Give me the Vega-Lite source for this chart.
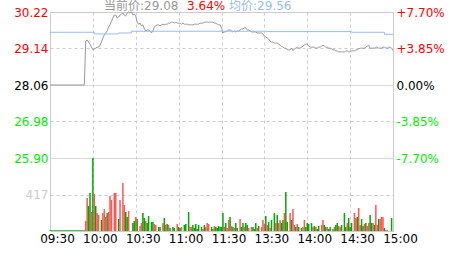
{
  "$schema": "https://vega.github.io/schema/vega-lite/v6.json",
  "width": 343,
  "height": 219,
  "autosize": {"type": "none"},
  "padding": {"left": 50, "top": 12, "right": 70, "bottom": 24},
  "config": {
    "view": {"stroke": "#cccccc"},
    "axis": {"labelFont": "DejaVu Sans", "labelFontSize": 12, "title": null, "domain": false, "ticks": false, "gridColor": "#cccccc"}
  },
  "datasets": {
    "price": [
      {"m":0,"p":28.06},{"m":24,"p":28.06},{"m":25,"p":29.36},{"m":26,"p":29.39},{"m":27,"p":29.33},{"m":28,"p":29.27},{"m":29,"p":29.18},{"m":30,"p":29.10},
      {"m":31,"p":29.13},{"m":32,"p":29.15},{"m":33,"p":29.18},{"m":34,"p":29.18},{"m":35,"p":29.24},{"m":36,"p":29.33},{"m":37,"p":29.45},{"m":38,"p":29.54},{"m":39,"p":29.60},{"m":40,"p":29.66},
      {"m":41,"p":29.78},{"m":42,"p":29.84},{"m":43,"p":29.95},{"m":44,"p":30.04},{"m":45,"p":30.13},{"m":46,"p":30.13},{"m":47,"p":30.04},{"m":48,"p":30.07},{"m":49,"p":30.13},{"m":50,"p":30.16},
      {"m":51,"p":30.19},{"m":52,"p":30.13},{"m":53,"p":30.10},{"m":54,"p":30.19},{"m":55,"p":30.22},{"m":56,"p":30.19},{"m":57,"p":30.22},{"m":58,"p":30.13},{"m":59,"p":30.16},{"m":60,"p":30.10},
      {"m":61,"p":29.92},{"m":62,"p":29.86},{"m":63,"p":29.89},{"m":64,"p":29.81},{"m":65,"p":29.84},{"m":66,"p":29.72},{"m":67,"p":29.66},{"m":68,"p":29.69},{"m":69,"p":29.69},{"m":70,"p":29.66},
      {"m":71,"p":29.60},{"m":72,"p":29.66},{"m":73,"p":29.78},{"m":74,"p":29.81},{"m":75,"p":29.84},{"m":76,"p":29.84},{"m":77,"p":29.81},{"m":78,"p":29.84},{"m":79,"p":29.86},{"m":80,"p":29.84},
      {"m":81,"p":29.86},{"m":82,"p":29.86},{"m":83,"p":29.89},{"m":84,"p":29.89},{"m":85,"p":29.92},{"m":86,"p":29.92},{"m":87,"p":29.89},{"m":88,"p":29.92},{"m":89,"p":29.89},{"m":90,"p":29.89},
      {"m":91,"p":29.89},{"m":92,"p":29.86},{"m":93,"p":29.89},{"m":94,"p":29.86},{"m":95,"p":29.86},{"m":96,"p":29.86},{"m":97,"p":29.84},{"m":98,"p":29.84},{"m":99,"p":29.84},{"m":100,"p":29.84},
      {"m":101,"p":29.86},{"m":102,"p":29.86},{"m":103,"p":29.86},{"m":104,"p":29.86},{"m":105,"p":29.89},{"m":106,"p":29.89},{"m":107,"p":29.89},{"m":108,"p":29.92},{"m":109,"p":29.92},{"m":110,"p":29.92},
      {"m":111,"p":29.92},{"m":112,"p":29.92},{"m":113,"p":29.92},{"m":114,"p":29.92},{"m":115,"p":29.89},{"m":116,"p":29.89},{"m":117,"p":29.86},{"m":118,"p":29.84},{"m":119,"p":29.84},{"m":120,"p":29.75},
      {"m":121,"p":29.60},{"m":122,"p":29.63},{"m":123,"p":29.63},{"m":124,"p":29.66},{"m":125,"p":29.69},{"m":126,"p":29.69},{"m":127,"p":29.66},{"m":128,"p":29.63},{"m":129,"p":29.66},{"m":130,"p":29.63},
      {"m":131,"p":29.66},{"m":132,"p":29.66},{"m":133,"p":29.69},{"m":134,"p":29.72},{"m":135,"p":29.72},{"m":136,"p":29.75},{"m":137,"p":29.75},{"m":138,"p":29.69},{"m":139,"p":29.69},{"m":140,"p":29.66},
      {"m":141,"p":29.63},{"m":142,"p":29.63},{"m":143,"p":29.63},{"m":144,"p":29.63},{"m":145,"p":29.60},{"m":146,"p":29.60},{"m":147,"p":29.60},{"m":148,"p":29.60},{"m":149,"p":29.57},{"m":150,"p":29.51},
      {"m":151,"p":29.48},{"m":152,"p":29.45},{"m":153,"p":29.42},{"m":154,"p":29.36},{"m":155,"p":29.33},{"m":156,"p":29.33},{"m":157,"p":29.30},{"m":158,"p":29.30},{"m":159,"p":29.30},{"m":160,"p":29.27},
      {"m":161,"p":29.24},{"m":162,"p":29.21},{"m":163,"p":29.18},{"m":164,"p":29.15},{"m":165,"p":29.15},{"m":166,"p":29.10},{"m":167,"p":29.10},{"m":168,"p":29.10},{"m":169,"p":29.15},{"m":170,"p":29.07},
      {"m":171,"p":29.13},{"m":172,"p":29.15},{"m":173,"p":29.18},{"m":174,"p":29.15},{"m":175,"p":29.15},{"m":176,"p":29.18},{"m":177,"p":29.21},{"m":178,"p":29.24},{"m":179,"p":29.27},{"m":180,"p":29.27},
      {"m":181,"p":29.21},{"m":182,"p":29.18},{"m":183,"p":29.18},{"m":184,"p":29.18},{"m":185,"p":29.18},{"m":186,"p":29.15},{"m":187,"p":29.15},{"m":188,"p":29.18},{"m":189,"p":29.18},{"m":190,"p":29.21},
      {"m":191,"p":29.24},{"m":192,"p":29.21},{"m":193,"p":29.18},{"m":194,"p":29.18},{"m":195,"p":29.15},{"m":196,"p":29.15},{"m":197,"p":29.13},{"m":198,"p":29.10},{"m":199,"p":29.10},{"m":200,"p":29.07},
      {"m":201,"p":29.07},{"m":202,"p":29.04},{"m":203,"p":29.04},{"m":204,"p":29.04},{"m":205,"p":29.04},{"m":206,"p":29.04},{"m":207,"p":29.07},{"m":208,"p":29.07},{"m":209,"p":29.04},{"m":210,"p":29.04},
      {"m":211,"p":29.07},{"m":212,"p":29.07},{"m":213,"p":29.07},{"m":214,"p":29.10},{"m":215,"p":29.10},{"m":216,"p":29.13},{"m":217,"p":29.15},{"m":218,"p":29.15},{"m":219,"p":29.15},{"m":220,"p":29.15},
      {"m":221,"p":29.18},{"m":222,"p":29.21},{"m":223,"p":29.24},{"m":224,"p":29.15},{"m":225,"p":29.15},{"m":226,"p":29.15},{"m":227,"p":29.15},{"m":228,"p":29.18},{"m":229,"p":29.18},{"m":230,"p":29.15},
      {"m":231,"p":29.15},{"m":232,"p":29.15},{"m":233,"p":29.18},{"m":234,"p":29.18},{"m":235,"p":29.15},{"m":236,"p":29.15},{"m":237,"p":29.18},{"m":238,"p":29.18},{"m":239,"p":29.15},{"m":240,"p":29.08}
    ],
    "avg": [
      {"m":0,"a":29.62},{"m":31,"a":29.57},{"m":48,"a":29.60},{"m":57,"a":29.65},{"m":151,"a":29.64},{"m":211,"a":29.62},{"m":234,"a":29.56},{"m":240,"a":29.56}
    ],
    "header": [
      {"t":"当前价:29.08","k":"now"},{"t":"3.64%","k":"chg"},{"t":"均价:29.56","k":"avg"}
    ],
    "vol": [
      {"m":0,"v":8,"d":"down"},{"m":1,"v":8,"d":"down"},{"m":2,"v":8,"d":"down"},{"m":3,"v":8,"d":"down"},{"m":4,"v":8,"d":"down"},{"m":5,"v":8,"d":"down"},{"m":6,"v":8,"d":"down"},{"m":7,"v":8,"d":"down"},{"m":8,"v":8,"d":"down"},{"m":9,"v":8,"d":"down"},
      {"m":10,"v":8,"d":"down"},{"m":11,"v":8,"d":"down"},{"m":12,"v":8,"d":"down"},{"m":13,"v":8,"d":"down"},{"m":14,"v":8,"d":"down"},{"m":15,"v":8,"d":"down"},{"m":16,"v":8,"d":"down"},{"m":17,"v":8,"d":"down"},{"m":18,"v":8,"d":"down"},{"m":19,"v":8,"d":"down"},
      {"m":20,"v":8,"d":"down"},{"m":21,"v":8,"d":"down"},{"m":22,"v":8,"d":"down"},{"m":23,"v":8,"d":"down"},{"m":24,"v":8,"d":"down"},
      {"m":25,"v":114,"d":"up"},{"m":26,"v":377,"d":"up"},{"m":27,"v":286,"d":"down"},{"m":28,"v":434,"d":"down"},{"m":29,"v":217,"d":"up"},{"m":30,"v":834,"d":"down"},{"m":31,"v":423,"d":"up"},{"m":32,"v":286,"d":"down"},{"m":33,"v":206,"d":"up"},{"m":34,"v":183,"d":"up"},
      {"m":36,"v":126,"d":"down"},{"m":37,"v":206,"d":"up"},{"m":38,"v":251,"d":"up"},{"m":39,"v":160,"d":"up"},{"m":40,"v":206,"d":"down"},{"m":41,"v":217,"d":"up"},{"m":42,"v":400,"d":"up"},{"m":43,"v":354,"d":"up"},{"m":45,"v":434,"d":"up"},{"m":46,"v":434,"d":"up"},
      {"m":48,"v":137,"d":"down"},{"m":49,"v":354,"d":"up"},{"m":51,"v":548,"d":"up"},{"m":52,"v":297,"d":"up"},{"m":53,"v":217,"d":"down"},{"m":54,"v":160,"d":"down"},{"m":55,"v":228,"d":"up"},{"m":58,"v":91,"d":"down"},{"m":59,"v":114,"d":"down"},{"m":60,"v":160,"d":"up"},
      {"m":61,"v":137,"d":"down"},{"m":63,"v":57,"d":"up"},{"m":64,"v":91,"d":"up"},{"m":65,"v":206,"d":"down"},{"m":66,"v":148,"d":"down"},{"m":67,"v":114,"d":"up"},{"m":68,"v":91,"d":"down"},{"m":69,"v":171,"d":"down"},{"m":71,"v":103,"d":"down"},{"m":72,"v":103,"d":"down"},
      {"m":73,"v":80,"d":"up"},{"m":74,"v":69,"d":"up"},{"m":76,"v":46,"d":"down"},{"m":77,"v":46,"d":"down"},{"m":79,"v":91,"d":"up"},{"m":80,"v":148,"d":"down"},{"m":81,"v":69,"d":"up"},{"m":82,"v":80,"d":"down"},{"m":83,"v":69,"d":"up"},{"m":84,"v":34,"d":"down"},
      {"m":86,"v":46,"d":"down"},{"m":87,"v":34,"d":"down"},{"m":89,"v":80,"d":"up"},{"m":90,"v":46,"d":"down"},{"m":91,"v":34,"d":"down"},{"m":92,"v":46,"d":"up"},{"m":94,"v":69,"d":"down"},{"m":95,"v":80,"d":"down"},{"m":97,"v":217,"d":"down"},{"m":98,"v":46,"d":"up"},
      {"m":99,"v":46,"d":"up"},{"m":100,"v":69,"d":"down"},{"m":101,"v":34,"d":"down"},{"m":102,"v":80,"d":"down"},{"m":103,"v":23,"d":"down"},{"m":104,"v":69,"d":"down"},{"m":106,"v":46,"d":"down"},{"m":107,"v":23,"d":"up"},{"m":108,"v":69,"d":"down"},{"m":109,"v":46,"d":"up"},
      {"m":110,"v":91,"d":"up"},{"m":111,"v":80,"d":"up"},{"m":113,"v":46,"d":"down"},{"m":114,"v":23,"d":"down"},{"m":115,"v":57,"d":"up"},{"m":116,"v":46,"d":"down"},{"m":117,"v":34,"d":"down"},{"m":118,"v":57,"d":"down"},{"m":119,"v":46,"d":"down"},{"m":120,"v":46,"d":"down"},
      {"m":121,"v":206,"d":"down"},{"m":122,"v":46,"d":"up"},{"m":123,"v":91,"d":"down"},{"m":124,"v":34,"d":"up"},{"m":125,"v":126,"d":"up"},{"m":126,"v":160,"d":"down"},{"m":127,"v":57,"d":"up"},{"m":128,"v":46,"d":"down"},{"m":129,"v":34,"d":"up"},{"m":130,"v":91,"d":"down"},
      {"m":131,"v":34,"d":"down"},{"m":133,"v":137,"d":"up"},{"m":134,"v":46,"d":"down"},{"m":135,"v":91,"d":"down"},{"m":136,"v":46,"d":"up"},{"m":137,"v":91,"d":"down"},{"m":138,"v":69,"d":"down"},{"m":139,"v":34,"d":"up"},{"m":141,"v":46,"d":"up"},{"m":142,"v":46,"d":"down"},
      {"m":143,"v":23,"d":"down"},{"m":144,"v":91,"d":"down"},{"m":145,"v":34,"d":"up"},{"m":146,"v":57,"d":"down"},{"m":148,"v":46,"d":"up"},{"m":149,"v":126,"d":"up"},{"m":150,"v":80,"d":"up"},{"m":151,"v":171,"d":"down"},{"m":152,"v":69,"d":"up"},{"m":153,"v":103,"d":"down"},
      {"m":154,"v":34,"d":"up"},{"m":155,"v":126,"d":"down"},{"m":157,"v":206,"d":"down"},{"m":158,"v":91,"d":"up"},{"m":159,"v":183,"d":"down"},{"m":160,"v":91,"d":"up"},{"m":161,"v":126,"d":"up"},{"m":162,"v":91,"d":"down"},{"m":163,"v":126,"d":"down"},{"m":164,"v":206,"d":"up"},
      {"m":165,"v":446,"d":"down"},{"m":166,"v":103,"d":"down"},{"m":168,"v":206,"d":"up"},{"m":169,"v":126,"d":"down"},{"m":170,"v":251,"d":"up"},{"m":171,"v":69,"d":"up"},{"m":172,"v":46,"d":"down"},{"m":173,"v":80,"d":"up"},{"m":174,"v":46,"d":"down"},{"m":176,"v":34,"d":"down"},
      {"m":177,"v":46,"d":"up"},{"m":178,"v":126,"d":"up"},{"m":179,"v":46,"d":"down"},{"m":180,"v":91,"d":"down"},{"m":181,"v":80,"d":"down"},{"m":183,"v":91,"d":"down"},{"m":184,"v":46,"d":"up"},{"m":185,"v":57,"d":"down"},{"m":186,"v":46,"d":"up"},{"m":187,"v":23,"d":"down"},
      {"m":188,"v":57,"d":"down"},{"m":190,"v":69,"d":"up"},{"m":191,"v":126,"d":"up"},{"m":192,"v":69,"d":"down"},{"m":193,"v":46,"d":"down"},{"m":194,"v":46,"d":"up"},{"m":195,"v":23,"d":"down"},{"m":196,"v":46,"d":"down"},{"m":198,"v":23,"d":"down"},{"m":199,"v":46,"d":"up"},
      {"m":200,"v":69,"d":"down"},{"m":201,"v":91,"d":"down"},{"m":202,"v":57,"d":"up"},{"m":203,"v":46,"d":"up"},{"m":204,"v":69,"d":"down"},{"m":206,"v":206,"d":"down"},{"m":207,"v":46,"d":"down"},{"m":208,"v":91,"d":"up"},{"m":209,"v":148,"d":"down"},{"m":210,"v":46,"d":"down"},
      {"m":211,"v":91,"d":"down"},{"m":213,"v":206,"d":"up"},{"m":214,"v":148,"d":"up"},{"m":215,"v":160,"d":"down"},{"m":216,"v":263,"d":"up"},{"m":217,"v":69,"d":"up"},{"m":218,"v":137,"d":"down"},{"m":219,"v":57,"d":"down"},{"m":220,"v":80,"d":"up"},{"m":221,"v":91,"d":"down"},
      {"m":222,"v":57,"d":"up"},{"m":223,"v":91,"d":"up"},{"m":224,"v":183,"d":"down"},{"m":225,"v":91,"d":"down"},{"m":226,"v":91,"d":"up"},{"m":227,"v":69,"d":"down"},{"m":228,"v":297,"d":"up"},{"m":229,"v":69,"d":"up"},{"m":230,"v":137,"d":"down"},{"m":231,"v":137,"d":"up"},
      {"m":232,"v":160,"d":"up"},{"m":233,"v":160,"d":"up"},{"m":234,"v":34,"d":"down"},{"m":235,"v":11,"d":"up"},{"m":236,"v":11,"d":"up"},{"m":239,"v":148,"d":"down"}
    ]
  },
  "layer": [
    {
      "data": {"name": "vol"},
      "mark": {"type": "bar", "size": 1.5},
      "encoding": {
        "x": {
          "field": "m",
          "type": "quantitative",
          "scale": {"domain": [0, 240], "nice": false, "zero": false, "padding": 0},
          "axis": {
            "values": [0, 30, 60, 90, 120, 150, 180, 210, 240],
            "labelExpr": "['09:30','10:00','10:30','11:00','11:30','13:30','14:00','14:30','15:00'][round(datum.value/30)]",
            "grid": true,
            "gridDash": [3, 3],
            "labelPadding": 2,
            "labelOffset": 7,
            "labelFlush": false,
            "labelOverlap": false,
            "labelBound": false,
            "labelColor": "#000000"
          }
        },
        "y": {
          "field": "v",
          "type": "quantitative",
          "scale": {"domain": [0, 2502], "nice": false},
          "axis": {"orient": "left", "values": [417], "grid": true, "gridDash": [3, 3], "labelColor": "#cccccc", "labelPadding": 2}
        },
        "color": {
          "field": "d",
          "type": "nominal",
          "scale": {"domain": ["up", "down"], "range": ["#ff5555", "#00a800"]},
          "legend": null
        }
      }
    },
    {
      "data": {"name": "price"},
      "mark": {"type": "line", "color": "#999999", "strokeWidth": 1},
      "encoding": {
        "x": {"field": "m", "type": "quantitative"},
        "y": {
          "field": "p",
          "type": "quantitative",
          "scale": {"domain": [23.74, 30.22], "nice": false, "zero": false},
          "axis": {
            "orient": "left",
            "values": [30.22, 29.14, 28.06, 26.98, 25.90],
            "labelExpr": "format(datum.value, '.2f')",
            "grid": true,
            "gridDash": {"expr": "abs(datum.value - 29.14) < 0.01 || abs(datum.value - 26.98) < 0.01 ? [3, 3] : [1, 0]"},
            "labelColor": {"expr": "datum.value > 28.07 ? '#ff0000' : datum.value < 28.05 ? '#00ee00' : '#000000'"},
            "labelPadding": 2
          }
        }
      }
    },
    {
      "data": {"name": "avg"},
      "mark": {"type": "line", "color": "#99bbee", "strokeWidth": 1, "interpolate": "step-after"},
      "encoding": {
        "x": {"field": "m", "type": "quantitative"},
        "y": {
          "field": "a",
          "type": "quantitative",
          "scale": {"domain": [23.74, 30.22], "nice": false, "zero": false},
          "axis": {
            "orient": "right",
            "values": [30.22, 29.14, 28.06, 26.98, 25.90],
            "labelExpr": "datum.value > 28.07 ? '+' + format((datum.value - 28.06) / 28.06 * 100, '.2f') + '%' : datum.value < 28.05 ? '-' + format((28.06 - datum.value) / 28.06 * 100, '.2f') + '%' : '0.00%'",
            "grid": false,
            "labelColor": {"expr": "datum.value > 28.07 ? '#ff0000' : datum.value < 28.05 ? '#00ee00' : '#000000'"},
            "labelPadding": 3
          }
        }
      }
    },
    {
      "data": {"name": "header"},
      "transform": [{"filter": "datum.k == 'now'"}],
      "mark": {"type": "text", "align": "left", "baseline": "alphabetic", "font": "DejaVu Sans, Noto Sans CJK SC", "fontSize": 12, "color": "#999999"},
      "encoding": {
        "x": {"datum": 37.8, "type": "quantitative"},
        "y": {"datum": 30.28, "type": "quantitative", "scale": {"domain": [23.74, 30.22], "nice": false, "zero": false}, "axis": null},
        "text": {"field": "t"}
      }
    },
    {
      "data": {"name": "header"},
      "transform": [{"filter": "datum.k == 'chg'"}],
      "mark": {"type": "text", "align": "left", "baseline": "alphabetic", "font": "DejaVu Sans", "fontSize": 12, "color": "#ff0000"},
      "encoding": {
        "x": {"datum": 95.9, "type": "quantitative"},
        "y": {"datum": 30.28, "type": "quantitative", "scale": {"domain": [23.74, 30.22], "nice": false, "zero": false}, "axis": null},
        "text": {"field": "t"}
      }
    },
    {
      "data": {"name": "header"},
      "transform": [{"filter": "datum.k == 'avg'"}],
      "mark": {"type": "text", "align": "left", "baseline": "alphabetic", "font": "DejaVu Sans, Noto Sans CJK SC", "fontSize": 12, "color": "#99bbee"},
      "encoding": {
        "x": {"datum": 125.3, "type": "quantitative"},
        "y": {"datum": 30.28, "type": "quantitative", "scale": {"domain": [23.74, 30.22], "nice": false, "zero": false}, "axis": null},
        "text": {"field": "t"}
      }
    }
  ],
  "resolve": {"scale": {"y": "independent"}, "axis": {"y": "independent"}}
}
